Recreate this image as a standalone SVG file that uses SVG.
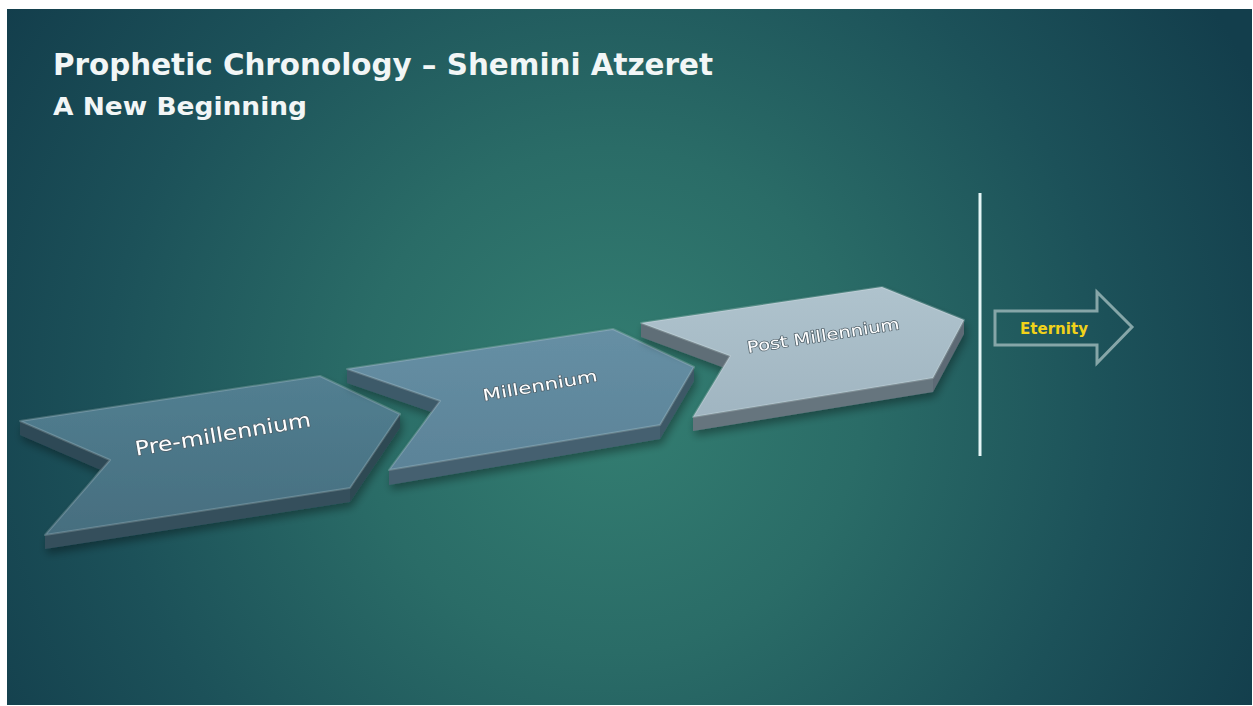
<svg xmlns="http://www.w3.org/2000/svg" width="1253" height="706" viewBox="0 0 1253 706">
  <defs>
    <radialGradient id="bg" cx="610" cy="400" r="720" gradientUnits="userSpaceOnUse">
      <stop offset="0" stop-color="#347f72"/>
      <stop offset="0.35" stop-color="#2a6c67"/>
      <stop offset="0.7" stop-color="#1c5159"/>
      <stop offset="1" stop-color="#133e4c"/>
    </radialGradient>
    <linearGradient id="f1" x1="0" y1="0" x2="0" y2="1">
      <stop offset="0" stop-color="#527f91"/>
      <stop offset="1" stop-color="#466e7f"/>
    </linearGradient>
    <linearGradient id="f2" x1="0" y1="0" x2="0" y2="1">
      <stop offset="0" stop-color="#668fa4"/>
      <stop offset="1" stop-color="#5b8398"/>
    </linearGradient>
    <linearGradient id="f3" x1="0" y1="0" x2="0" y2="1">
      <stop offset="0" stop-color="#afc3cd"/>
      <stop offset="1" stop-color="#a0b5c1"/>
    </linearGradient>
    <filter id="sh" x="-10%" y="-10%" width="130%" height="140%">
      <feGaussianBlur in="SourceAlpha" stdDeviation="4"/>
      <feOffset dx="2" dy="5" result="b"/>
      <feComponentTransfer><feFuncA type="linear" slope="0.35"/></feComponentTransfer>
      <feMerge><feMergeNode/><feMergeNode in="SourceGraphic"/></feMerge>
    </filter>
  </defs>
  <style>
    .title { font-family: "DejaVu Sans", "Liberation Sans", sans-serif; font-weight: bold; fill: #f2f6f6; }
    .lbl { font-family: "DejaVu Sans", "Liberation Sans", sans-serif; fill: #ffffff; stroke: #4f5f68; stroke-width: 1.4; paint-order: stroke; stroke-linejoin: round; }
    .bevel { stroke: rgba(255,255,255,0.18); stroke-width: 2; stroke-linejoin: round; }
  </style>

  <rect x="0" y="0" width="1253" height="706" fill="#ffffff"/>
  <rect x="7" y="9" width="1245" height="696" fill="url(#bg)"/>

  <text class="title" x="53" y="75" font-size="31" textLength="660" lengthAdjust="spacingAndGlyphs">Prophetic Chronology – Shemini Atzeret</text>
  <text class="title" x="53" y="115" font-size="25" textLength="254" lengthAdjust="spacingAndGlyphs">A New Beginning</text>

  <g id="node-pre-millennium" filter="url(#sh)">
    <polygon points="20,421 110,460 110,474 20,435" fill="#2f4a56"/>
    <polygon points="45,535 350,488 350,502 45,549" fill="#34505c"/>
    <polygon points="350,488 400,414 400,428 350,502" fill="#2e4853"/>
    <polygon class="bevel" points="20,421 320,376 400,414 350,488 45,535 110,460" fill="url(#f1)"/>
    <text class="lbl" x="224" y="441" font-size="20" text-anchor="middle" transform="rotate(-9.6 224 441)" textLength="178" lengthAdjust="spacingAndGlyphs">Pre-millennium</text>
  </g>

  <g id="node-millennium" filter="url(#sh)">
    <polygon points="347,369 440,401 440,415 347,383" fill="#3e5a69"/>
    <polygon points="389,470 660,425 660,439 389,485" fill="#45606f"/>
    <polygon points="660,425 694,367 694,381 660,439" fill="#3e5866"/>
    <polygon class="bevel" points="347,369 613,329 694,367 660,425 389,470 440,401" fill="url(#f2)"/>
    <text class="lbl" x="541" y="391" font-size="16" text-anchor="middle" transform="rotate(-9.9 541 391)" textLength="116" lengthAdjust="spacingAndGlyphs">Millennium</text>
  </g>

  <g id="node-post-millennium" filter="url(#sh)">
    <polygon points="641,323 730,356 730,370 641,337" fill="#5f6e77"/>
    <polygon points="693,417 933,378 933,392 693,431" fill="#66757e"/>
    <polygon points="933,378 964,320 964,334 933,392" fill="#5d6b74"/>
    <polygon class="bevel" points="641,323 882,287 964,320 933,378 693,417 730,356" fill="url(#f3)"/>
    <text class="lbl" x="824" y="341" font-size="16" text-anchor="middle" transform="rotate(-9 824 341)" textLength="154" lengthAdjust="spacingAndGlyphs">Post Millennium</text>
  </g>

  <g id="connectors">
    <line x1="980" y1="193" x2="980" y2="456" stroke="#e4f6f6" stroke-width="3"/>
  </g>

  <g id="node-eternity">
    <polygon points="995,311 1097,311 1097,292 1132,327 1097,363 1097,345 995,345" fill="none" stroke="#86a6a8" stroke-width="3" stroke-linejoin="miter"/>
    <text x="1054" y="334" font-family="'DejaVu Sans', 'Liberation Sans', sans-serif" font-weight="bold" font-size="16" fill="#f1d21a" text-anchor="middle" textLength="68" lengthAdjust="spacingAndGlyphs">Eternity</text>
  </g>
</svg>
